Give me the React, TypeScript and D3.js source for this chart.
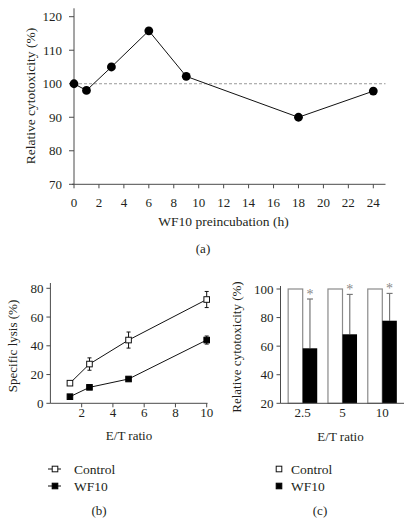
import React from "react";
import * as d3 from "d3";

// Panel (a)
const aHours = [0, 1, 3, 6, 9, 18, 24];
const aCytotox = [100, 98, 105, 115.8, 102.2, 90, 97.8];
const aXTicks = [0, 2, 4, 6, 8, 10, 12, 14, 16, 18, 20, 22, 24];
const aYTicks = [70, 80, 90, 100, 110, 120];

// Panel (b)
const bRatios = [1.25, 2.5, 5, 10];
const bControl = [14, 27.3, 44, 72.2];
const bControlErr = [1.2, 4.3, 5.6, 5.6];
const bWF10 = [4.6, 11.1, 16.9, 44];
const bWF10Err = [0.8, 1, 1.2, 2.8];
const bXTicks = [2, 4, 6, 8, 10];
const bYTicks = [0, 20, 40, 60, 80];

// Panel (c)
const cRatios = ["2.5", "5", "10"];
const cControl = [100, 100, 100];
const cWF10 = [58.5, 68.3, 77.8];
const cWF10Err = [34.5, 27.9, 19.1];
const cYTicks = [20, 40, 60, 80, 100];

const FONT = "Liberation Serif, DejaVu Serif, serif";
const TXT = "#231f20";
const AX = "#4a4a4a";

export default function App() {
  // ----- (a)
  const ax = d3.scaleLinear().domain([0, 24]).range([74, 373.3]);
  const ay = d3.scaleLinear().domain([70, 120]).range([184.3, 16.7]);
  const aLine = d3
    .line<number>()
    .x((_, i) => ax(aHours[i]))
    .y((d) => ay(d));

  // ----- (b)
  const bx = d3.scaleLinear().domain([0, 10]).range([50.4, 206.7]);
  const by = d3.scaleLinear().domain([0, 80]).range([403.3, 288.3]);
  const bLine = d3
    .line<number>()
    .x((_, i) => bx(bRatios[i]))
    .y((d) => by(d));

  // ----- (c)
  const cy = d3.scaleLinear().domain([20, 100]).range([403.3, 289]);
  const cx = d3
    .scaleBand<string>()
    .domain(cRatios)
    .range([281, 404])
    .paddingInner(0.27)
    .paddingOuter(0.18);
  const bw = cx.bandwidth() / 2;

  const sq = 5.6;

  return (
    <svg
      width={412}
      height={524}
      style={{ position: "absolute", left: 0, top: 0, background: "#fff", fontFamily: FONT }}
    >
      {/* ================= (a) ================= */}
      <g>
        <line
          x1={ax(0)}
          x2={385.5}
          y1={ay(100)}
          y2={ay(100)}
          stroke="#999"
          strokeWidth={1}
          strokeDasharray="3,2"
        />
        <line x1={ax(0)} x2={ax(0)} y1={8.3} y2={ay(70)} stroke={AX} strokeWidth={1} />
        <line x1={72} x2={385.5} y1={ay(70)} y2={ay(70)} stroke={AX} strokeWidth={1} />
        {aYTicks.map((t) => (
          <g key={"ay" + t}>
            <line x1={ax(0) - 5} x2={ax(0)} y1={ay(t)} y2={ay(t)} stroke={AX} />
            <text x={ax(0) - 12} y={ay(t) + 4.5} textAnchor="end" fontSize={13} fill={TXT}>
              {t}
            </text>
          </g>
        ))}
        {aXTicks.map((t) => (
          <g key={"ax" + t}>
            <line x1={ax(t)} x2={ax(t)} y1={ay(70)} y2={ay(70) + 4} stroke={AX} />
            <text x={ax(t)} y={206.5} textAnchor="middle" fontSize={13} fill={TXT}>
              {t}
            </text>
          </g>
        ))}
        <text x={(74 + 373) / 2} y={226} textAnchor="middle" fontSize={13.5} fill={TXT}>
          WF10 preincubation (h)
        </text>
        <text
          transform={`translate(34.5,96) rotate(-90)`}
          textAnchor="middle"
          fontSize={13.5}
          fill={TXT}
        >
          Relative cytotoxicity (%)
        </text>
        <path d={aLine(aCytotox) || ""} fill="none" stroke="#111" strokeWidth={1} />
        {aCytotox.map((v, i) => (
          <circle key={"ac" + i} cx={ax(aHours[i])} cy={ay(v)} r={4.4} fill="#000" />
        ))}
        <text x={203} y={252.5} textAnchor="middle" fontSize={13} fill={TXT}>
          (a)
        </text>
      </g>

      {/* ================= (b) ================= */}
      <g>
        <line x1={bx(0)} x2={bx(0)} y1={283} y2={by(0)} stroke={AX} />
        <line x1={bx(0)} x2={207.5} y1={by(0)} y2={by(0)} stroke={AX} />
        {bYTicks.map((t) => (
          <g key={"by" + t}>
            <line x1={bx(0) - 4} x2={bx(0)} y1={by(t)} y2={by(t)} stroke={AX} />
            <text x={bx(0) - 7} y={by(t) + 4.5} textAnchor="end" fontSize={13} fill={TXT}>
              {t}
            </text>
          </g>
        ))}
        {bXTicks.map((t) => (
          <g key={"bx" + t}>
            <line x1={bx(t)} x2={bx(t)} y1={by(0)} y2={by(0) + 4} stroke={AX} />
            <text x={bx(t)} y={417} textAnchor="middle" fontSize={13} fill={TXT}>
              {t}
            </text>
          </g>
        ))}
        <text x={129} y={440} textAnchor="middle" fontSize={13} fill={TXT}>
          E/T ratio
        </text>
        <text
          transform={`translate(17,346) rotate(-90)`}
          textAnchor="middle"
          fontSize={13}
          fill={TXT}
        >
          Specific lysis (%)
        </text>
        <path d={bLine(bControl) || ""} fill="none" stroke="#111" strokeWidth={1} />
        <path d={bLine(bWF10) || ""} fill="none" stroke="#111" strokeWidth={1} />
        {bControl.map((v, i) => (
          <g key={"bce" + i}>
            <line x1={bx(bRatios[i])} x2={bx(bRatios[i])} y1={by(v - bControlErr[i])} y2={by(v + bControlErr[i])} stroke="#111" />
            <line x1={bx(bRatios[i]) - 2} x2={bx(bRatios[i]) + 2} y1={by(v + bControlErr[i])} y2={by(v + bControlErr[i])} stroke="#111" />
            <line x1={bx(bRatios[i]) - 2} x2={bx(bRatios[i]) + 2} y1={by(v - bControlErr[i])} y2={by(v - bControlErr[i])} stroke="#111" />
          </g>
        ))}
        {bWF10.map((v, i) => (
          <g key={"bwe" + i}>
            <line x1={bx(bRatios[i])} x2={bx(bRatios[i])} y1={by(v - bWF10Err[i])} y2={by(v + bWF10Err[i])} stroke="#111" />
            <line x1={bx(bRatios[i]) - 2} x2={bx(bRatios[i]) + 2} y1={by(v + bWF10Err[i])} y2={by(v + bWF10Err[i])} stroke="#111" />
            <line x1={bx(bRatios[i]) - 2} x2={bx(bRatios[i]) + 2} y1={by(v - bWF10Err[i])} y2={by(v - bWF10Err[i])} stroke="#111" />
          </g>
        ))}
        {bControl.map((v, i) => (
          <rect key={"bc" + i} x={bx(bRatios[i]) - sq / 2} y={by(v) - sq / 2} width={sq} height={sq} fill="#fff" stroke="#111" strokeWidth={1} />
        ))}
        {bWF10.map((v, i) => (
          <rect key={"bw" + i} x={bx(bRatios[i]) - sq / 2} y={by(v) - sq / 2} width={sq} height={sq} fill="#000" stroke="#000" strokeWidth={1} />
        ))}
        <line x1={48} x2={61} y1={469} y2={469} stroke="#111" />
        <rect x={55 - sq / 2} y={469 - sq / 2} width={sq} height={sq} fill="#fff" stroke="#111" />
        <text x={74} y={473.5} fontSize={13.5} fill={TXT}>Control</text>
        <line x1={48} x2={61} y1={486} y2={486} stroke="#111" />
        <rect x={55 - sq / 2} y={486 - sq / 2} width={sq} height={sq} fill="#000" stroke="#000" />
        <text x={74} y={490.5} fontSize={13.5} fill={TXT}>WF10</text>
        <text x={99} y={515} textAnchor="middle" fontSize={13} fill={TXT}>
          (b)
        </text>
      </g>

      {/* ================= (c) ================= */}
      <g>
        {cRatios.map((r, i) => {
          const x0 = cx(r) as number;
          const xc = x0 + bw;
          const top = cy(cWF10[i] + cWF10Err[i]);
          return (
            <g key={"cb" + r}>
              <rect x={x0} y={cy(cControl[i])} width={bw} height={cy(20) - cy(cControl[i])} fill="#fff" stroke="#8a8a8a" strokeWidth={1.2} />
              <line x1={xc + bw / 2} x2={xc + bw / 2} y1={top} y2={cy(cWF10[i])} stroke="#777" strokeWidth={1.2} />
              <line x1={xc + bw / 2 - 3} x2={xc + bw / 2 + 3} y1={top} y2={top} stroke="#777" strokeWidth={1.2} />
              <rect x={xc} y={cy(cWF10[i])} width={bw} height={cy(20) - cy(cWF10[i])} fill="#000" />
              <text x={xc + bw / 2} y={top - 0.5} textAnchor="middle" fontSize={14} fill="#888">
                *
              </text>
            </g>
          );
        })}
        <line x1={280.5} x2={280.5} y1={286} y2={cy(20)} stroke={AX} />
        <line x1={280.5} x2={404} y1={cy(20)} y2={cy(20)} stroke={AX} />
        {cYTicks.map((t) => (
          <g key={"cy" + t}>
            <line x1={276.5} x2={280.5} y1={cy(t)} y2={cy(t)} stroke={AX} />
            <text x={273.5} y={cy(t) + 4.5} textAnchor="end" fontSize={13} fill={TXT}>
              {t}
            </text>
          </g>
        ))}
        {cRatios.map((r) => (
          <text key={"cl" + r} x={(cx(r) as number) + bw} y={417} textAnchor="middle" fontSize={13} fill={TXT}>
            {r}
          </text>
        ))}
        <text x={340.5} y={441} textAnchor="middle" fontSize={13} fill={TXT}>
          E/T ratio
        </text>
        <text
          transform={`translate(240.5,347) rotate(-90)`}
          textAnchor="middle"
          fontSize={13}
          fill={TXT}
        >
          Relative cytotoxicity (%)
        </text>
        <rect x={279 - sq / 2} y={469 - sq / 2} width={sq} height={sq} fill="#fff" stroke="#111" />
        <text x={291} y={473.5} fontSize={13.5} fill={TXT}>Control</text>
        <rect x={279 - sq / 2} y={486 - sq / 2} width={sq} height={sq} fill="#000" stroke="#000" />
        <text x={291} y={490.5} fontSize={13.5} fill={TXT}>WF10</text>
        <text x={320} y={515} textAnchor="middle" fontSize={13} fill={TXT}>
          (c)
        </text>
      </g>
    </svg>
  );
}
